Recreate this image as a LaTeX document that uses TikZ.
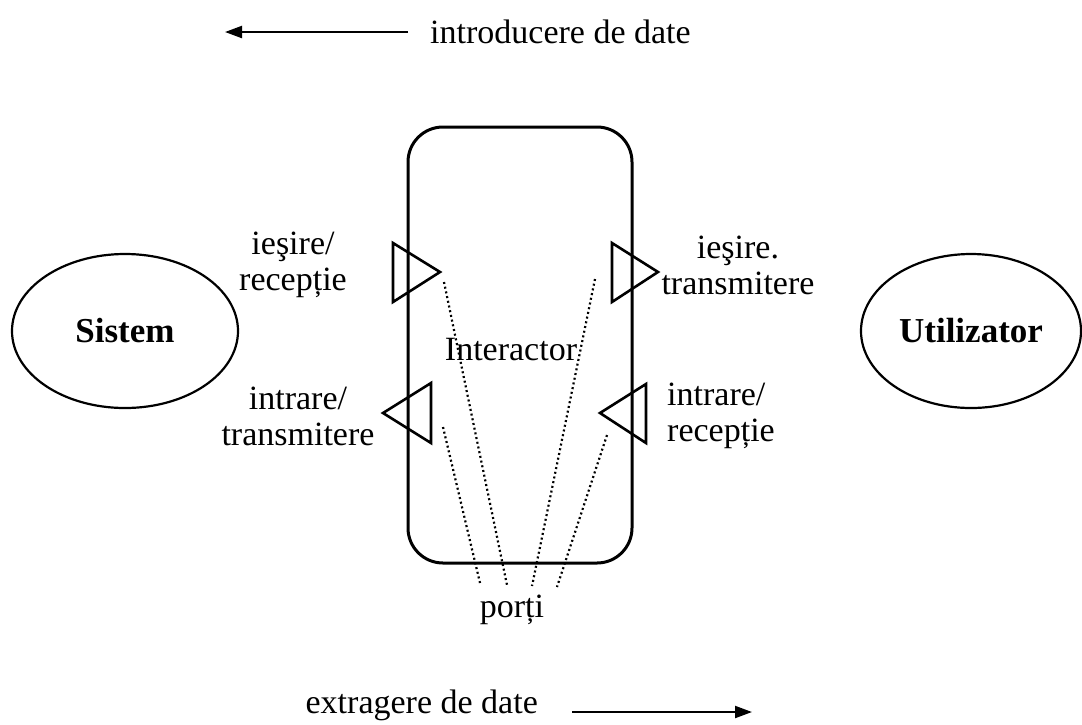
\documentclass[tikz,border=0pt]{standalone}
\usepackage{fontspec}
\setmainfont{Liberation Serif}
\usetikzlibrary{arrows.meta,shapes.geometric}
\begin{document}
\begin{tikzpicture}[x=1pt,y=-1pt,
  lbl/.style={font=\fontsize{34}{36}\selectfont, inner sep=0pt, align=center},
  ent/.style={draw, line width=2.2pt, ellipse, inner sep=0pt,
    minimum height=154pt, font=\fontsize{35}{40}\selectfont\bfseries},
  port/.style={draw, line width=2.6pt, line join=miter},
  guide/.style={line width=2.2pt, dash pattern=on 2pt off 2.8pt},
  flow/.style={line width=2.2pt, -{Triangle[length=17pt,width=12pt]}}]
\useasboundingbox (0,0) rectangle (1082,724);

% data-flow directions
\node[lbl, anchor=west] (intro) at (430,32) {introducere de date};
\coordinate (inTail) at (408,32);
\coordinate (inHead) at (225,32);
\draw[flow] (inTail) -- (inHead);

\node[lbl, anchor=east] (extr) at (538,705) {extragere de date};
\coordinate (exTail) at (572,712);
\coordinate (exHead) at (752,712);
\draw[flow] (exTail) -- (exHead);

% the two communicating entities
\node[ent, minimum width=226pt] (sys) at (125,331) {Sistem};
\node[ent, minimum width=220pt] (usr) at (971,331) {Utilizator};

% interactor box
\node[draw, line width=3pt, rounded corners=35pt, minimum width=224pt,
  minimum height=436pt, inner sep=0pt] (box) at (520,345) {};
\node[lbl] (ilabel) at (511,350) {Interactor};

% ports
\coordinate (tlA) at (393,243); \coordinate (tlT) at (440,272); \coordinate (tlB) at (393,302);
\coordinate (trA) at (612,243); \coordinate (trT) at (658,272); \coordinate (trB) at (612,302);
\coordinate (blA) at (431,383); \coordinate (blT) at (383,413); \coordinate (blB) at (431,443);
\coordinate (brA) at (646,384); \coordinate (brT) at (600,413); \coordinate (brB) at (646,443);
\draw[port] (tlA) -- (tlT) -- (tlB) -- cycle;
\draw[port] (trA) -- (trT) -- (trB) -- cycle;
\draw[port] (blA) -- (blT) -- (blB) -- cycle;
\draw[port] (brA) -- (brT) -- (brB) -- cycle;

% port labels
\node[lbl] (outL) at (293,265) {ieşire/\\recepție};
\node[lbl] (inL) at (298,416) {intrare/\\transmitere};
\node[lbl] (outR) at (738,265) {ieşire.\\transmitere};
\node[lbl, align=left, anchor=west] (inR) at (667,416) {intrare/\\recepție};

% dotted guides to the "porți" label
\node[lbl] (porti) at (512,610) {porți};
\coordinate (g1s) at (444,282); \coordinate (g1e) at (507,585);
\coordinate (g2s) at (443,427); \coordinate (g2e) at (480,583);
\coordinate (g3s) at (595,279); \coordinate (g3e) at (532,586);
\coordinate (g4s) at (607,435); \coordinate (g4e) at (557,587);
\draw[guide] (g1s) -- (g1e);
\draw[guide] (g2s) -- (g2e);
\draw[guide] (g3s) -- (g3e);
\draw[guide] (g4s) -- (g4e);
\end{tikzpicture}
\end{document}
